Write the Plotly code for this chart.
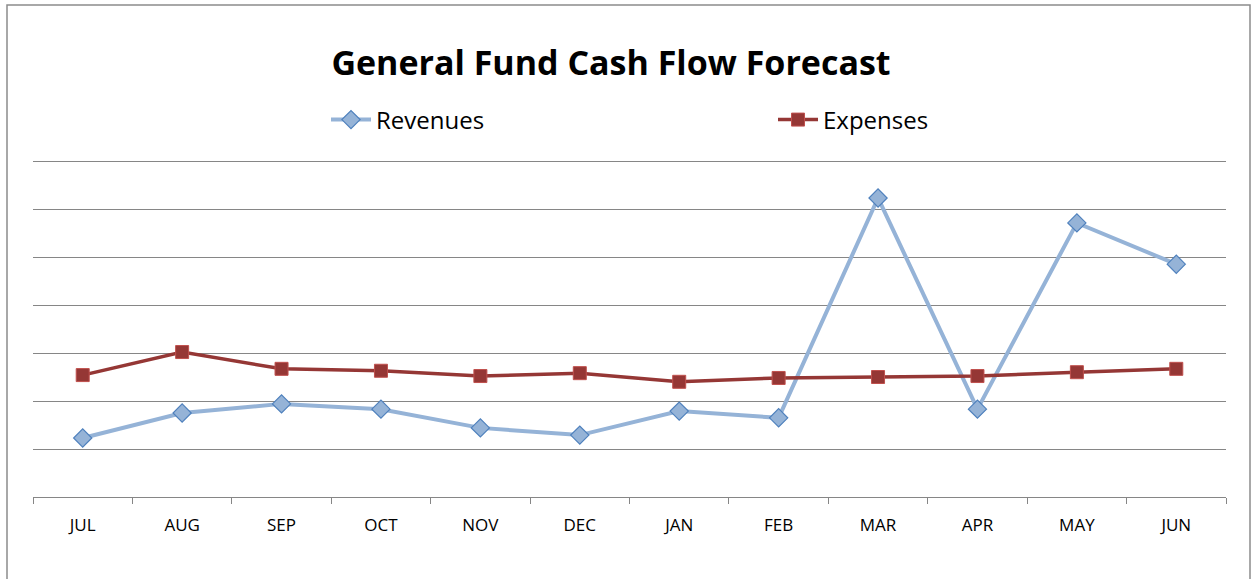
import plotly.graph_objects as go

months = ["JUL", "AUG", "SEP", "OCT", "NOV", "DEC", "JAN", "FEB", "MAR", "APR", "MAY", "JUN"]
revenues = [1.23, 1.75, 1.94, 1.83, 1.44, 1.29, 1.79, 1.65, 6.23, 1.83, 5.71, 4.85]
expenses = [2.54, 3.02, 2.67, 2.63, 2.52, 2.58, 2.40, 2.48, 2.50, 2.52, 2.60, 2.67]
gridvals = [1, 2, 3, 4, 5, 6, 7]

W, H = 1251, 579
L, R, T, B = 33, 25, 158, 82
pw, ph = W - L - R, H - T - B
YMAX = ph / 48.0  # 48 px per unit, 7 lands at y=161

def px_to_paper_x(x):
    return (x - L) / pw

def px_to_paper_y(y):
    return (H - B - y) / ph

fig = go.Figure()
fig.add_trace(go.Scatter(
    x=months, y=revenues, name="Revenues", mode="lines+markers",
    line=dict(color="#95B3D7", width=4),
    marker=dict(symbol="diamond", size=14, color="#95B3D7",
                line=dict(color="#4F81BD", width=1.2)),
))
fig.add_trace(go.Scatter(
    x=months, y=expenses, name="Expenses", mode="lines+markers",
    line=dict(color="#953735", width=3.5),
    marker=dict(symbol="square", size=13, color="#953735",
                line=dict(color="#C0504D", width=1)),
))

font_family = "'Open Sans', Lato, sans-serif"

fig.update_layout(
    width=W, height=H,
    margin=dict(l=L, r=R, t=T, b=B, pad=0),
    paper_bgcolor="white", plot_bgcolor="white",
    font=dict(family=font_family, color="#000000"),
    title=dict(text="<b>General Fund Cash Flow Forecast</b>",
               x=px_to_paper_x(611), xref="paper", xanchor="center",
               y=1 - 63 / H, yref="container", yanchor="middle",
               font=dict(size=34, family=font_family, color="#000000")),
    showlegend=True,
    legend=dict(orientation="h", x=px_to_paper_x(326), xanchor="left",
                y=px_to_paper_y(120), yanchor="middle",
                entrywidth=392, entrywidthmode="pixels",
                font=dict(size=24, family=font_family, color="#000000"),
                bgcolor="rgba(0,0,0,0)", itemwidth=40),
    xaxis=dict(type="category", range=[-0.5, 11.5], tickson="boundaries",
               ticks="outside", ticklen=6, tickcolor="#868686", tickwidth=1,
               showline=True, linecolor="#868686", linewidth=1.2,
               showgrid=False, tickfont=dict(size=17, family=font_family, color="#000000"),
               ticklabelstandoff=12, fixedrange=True),
    yaxis=dict(range=[0, YMAX], tickvals=gridvals, showgrid=True,
               gridcolor="#868686", gridwidth=1,
               showticklabels=False, zeroline=False, showline=False, ticks="",
               fixedrange=True),
    shapes=[dict(type="rect", xref="paper", yref="paper",
                 x0=px_to_paper_x(7), x1=px_to_paper_x(1250),
                 y0=px_to_paper_y(600), y1=px_to_paper_y(5),
                 line=dict(color="#8C8C8C", width=1.5), fillcolor="rgba(0,0,0,0)",
                 layer="below")],
)

fig.write_html("out.html", config={"displayModeBar": False})
